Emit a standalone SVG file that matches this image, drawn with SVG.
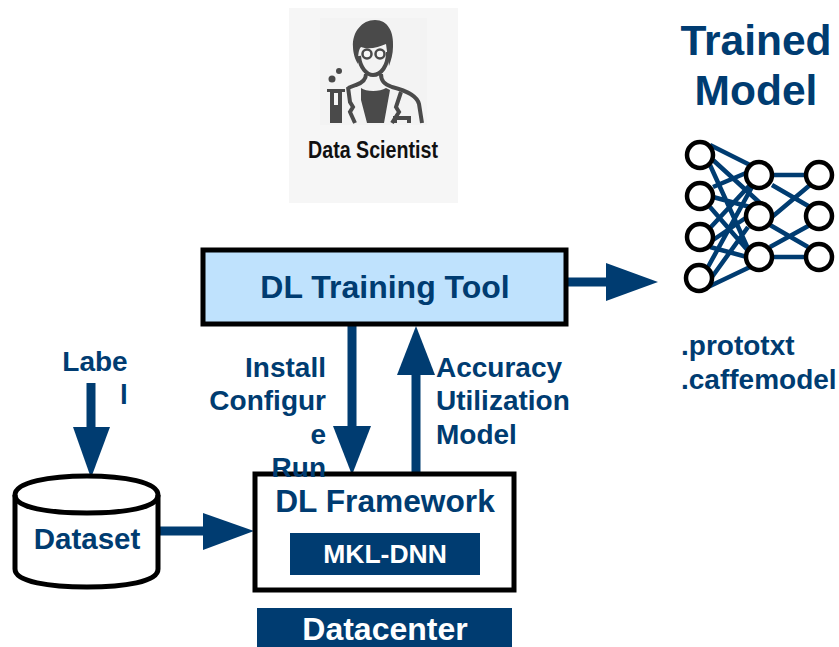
<svg xmlns="http://www.w3.org/2000/svg" width="839" height="647" viewBox="0 0 839 647">
<style>
text{font-family:"Liberation Sans",Arial,sans-serif;font-weight:700;fill:#003c71}
.m{text-anchor:middle}
.s{fill:none;stroke:#000;stroke-width:5}
.c{stroke:#003c71;stroke-width:9;fill:none}
.a{fill:#003c71}
.n{stroke:#003c71;stroke-width:4.5;fill:none}
.o{fill:#fff;stroke:#000;stroke-width:4.5}
.i{fill:#4a4a4a}
.il{fill:none;stroke:#4a4a4a;stroke-width:4}
</style>
<rect width="839" height="647" fill="#fff"/>
<g id="data-scientist">
<rect x="289" y="8" width="169" height="195" fill="#f6f6f6"/>
<rect x="320" y="18" width="107" height="107" fill="#f3f3f3"/>
<path class="i" d="M353 47C352 32 362 20 375 20C388 20 394 32 393 47C393 54 391 60 389 66L386 44C379 47 369 50 361 47C358 50 358 58 358 64C355 60 353 52 353 47Z"/>
<path class="il" d="M359 56C360 68 367 75 373 75C381 75 388 66 388 52"/>
<circle cx="367" cy="54" r="4.5" fill="#f6f6f6" stroke="#4a4a4a" stroke-width="2.5"/>
<circle cx="380" cy="54" r="4.5" fill="#f6f6f6" stroke="#4a4a4a" stroke-width="2.5"/>
<path class="il" d="M366 74C366 80 362 83 356 85L348 88M381 74C381 81 384 84 392 87C408 91 417 96 419 104L422 123"/>
<path class="il" stroke-width="3" d="M348 87L350 102L353 107L350 112L355 123M401 92L396 107L399 112L392 123M395 123V118H409V123"/>
<path class="i" d="M361 88C366 92 380 92 386 88L390 90L384 123H367L361 100Z"/>
<path class="i" d="M327 89H345V92H342V123H330V92H327Z"/>
<rect x="334" y="93" width="4" height="12" fill="#f6f6f6"/>
<circle class="i" cx="332" cy="79" r="3.5"/><circle class="i" cx="339" cy="71" r="3"/>
<text x="373" y="158" class="m" font-size="23" textLength="130" lengthAdjust="spacingAndGlyphs" style="fill:#111">Data Scientist</text>
</g>
<g id="connectors">
<path class="c" d="M568 282H606"/><path class="a" d="M606 263L658 282L606 301Z"/>
<path class="c" d="M352 324V426"/><path class="a" d="M333 426H371L352 475Z"/>
<path class="c" d="M416 475V375"/><path class="a" d="M397 375L416 326L435 375Z"/>
<path class="c" d="M91 383V428"/><path class="a" d="M73 427H110L91 478Z"/>
<path class="c" d="M160 531H204"/><path class="a" d="M203 513L254 531L203 550Z"/>
</g>
<g id="dl-training-tool">
<rect x="203" y="250" width="363" height="74" fill="#bfe2fd" stroke="#000" stroke-width="5"/>
<text x="385" y="298" class="m" font-size="32">DL Training Tool</text>
</g>
<g id="label"><text x="95" y="371" class="m" font-size="28">Labe</text><text x="124" y="404" class="m" font-size="28">l</text></g>
<g id="dataset">
<path d="M15 495C15 482 50 476 87 476C124 476 158 482 158 495V569C158 582 124 587 87 587C50 587 15 582 15 569Z" fill="#fff" stroke="#000" stroke-width="5"/>
<path class="s" d="M15 495C15 508 50 513 87 513C124 513 158 508 158 495"/>
<text x="87" y="549" class="m" font-size="29.5">Dataset</text>
</g>
<g id="dl-framework">
<rect x="255" y="474" width="259" height="116" fill="#fff" stroke="#000" stroke-width="5"/>
<text x="385" y="512" class="m" font-size="31.7">DL Framework</text>
<rect x="290" y="533" width="190" height="42" class="a"/>
<text x="385" y="563" class="m" font-size="26.5" style="fill:#fff">MKL-DNN</text>
</g>
<g id="install-labels" font-size="28">
<text x="326" y="377" text-anchor="end">Install</text>
<text x="326" y="410" text-anchor="end">Configur</text>
<text x="326" y="444" text-anchor="end">e</text>
<text x="326" y="477" text-anchor="end">Run</text>
</g>
<g id="accuracy-labels" font-size="28">
<text x="436" y="377">Accuracy</text>
<text x="436" y="410">Utilization</text>
<text x="436" y="444">Model</text>
</g>
<g id="datacenter">
<rect x="257" y="608" width="255" height="39" class="a"/>
<text x="385" y="640" class="m" font-size="32" style="fill:#fff">Datacenter</text>
</g>
<g id="trained-model">
<text x="756" y="55" class="m" font-size="42.5">Trained</text>
<text x="756" y="105" class="m" font-size="42.5">Model</text>
</g>
<g id="network">
<path class="n" d="M710 145L750 165M713 160L760 203M710 165L750 253M713 187L746 173M713 197L750 207M710 207L750 253M710 228L750 185M713 240L747 217M710 247L747 257M708 267L752 187M712 277L748 227M708 287L750 267"/>
<path class="n" d="M773 175H807M772 185L810 207M772 217L810 185M770 225L808 247M770 247L810 225M772 257H807"/>
<circle class="o" cx="700" cy="155" r="13"/><circle class="o" cx="700" cy="196" r="13"/><circle class="o" cx="700" cy="237" r="13"/><circle class="o" cx="699" cy="278" r="13"/>
<circle class="o" cx="759" cy="175" r="13"/><circle class="o" cx="759" cy="216" r="13"/><circle class="o" cx="759" cy="257" r="13"/>
<circle class="o" cx="819" cy="175" r="13"/><circle class="o" cx="819" cy="216" r="13"/><circle class="o" cx="819" cy="257" r="13"/>
</g>
<g id="model-files" font-size="28">
<text x="681" y="355">.prototxt</text>
<text x="681" y="389">.caffemodel</text>
</g>
</svg>
